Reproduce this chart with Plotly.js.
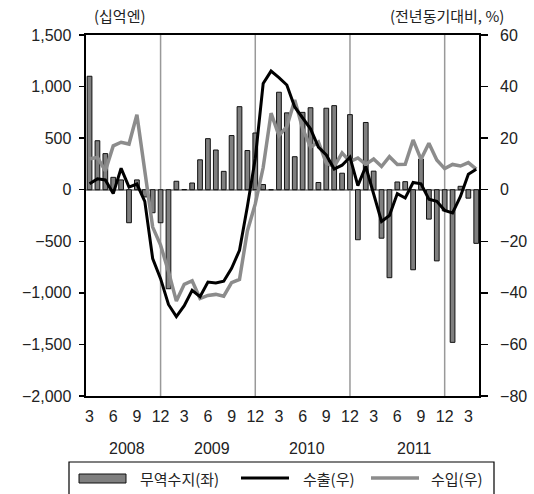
<!DOCTYPE html>
<html><head><meta charset="utf-8">
<script src="https://cdn.plot.ly/plotly-3.0.1.min.js"></script>
<style>html,body{margin:0;padding:0;background:#fff}#chart{width:534px;height:494px}</style>
</head><body><div id="chart"></div>
<script>
// Months (year.month), Mar 2008 – Apr 2012
const months = [
 '2008.3','2008.4','2008.5','2008.6','2008.7','2008.8','2008.9','2008.10','2008.11','2008.12',
 '2009.1','2009.2','2009.3','2009.4','2009.5','2009.6','2009.7','2009.8','2009.9','2009.10','2009.11','2009.12',
 '2010.1','2010.2','2010.3','2010.4','2010.5','2010.6','2010.7','2010.8','2010.9','2010.10','2010.11','2010.12',
 '2011.1','2011.2','2011.3','2011.4','2011.5','2011.6','2011.7','2011.8','2011.9','2011.10','2011.11','2011.12',
 '2012.1','2012.2','2012.3','2012.4'
];
// Trade balance (billion yen, left axis)
const tradeBalance = [
 1100, 475, 350, 120, 95, -320, 95, -70, -223, -320,
 -960, 82, 2, 65, 290, 495, 385, 178, 525, 805, 380, 550,
 50, 0, 945, 745, 320, 750, 795, 70, 790, 815, 160, 728,
 -485, 652, 180, -470, -853, 75, 78, -776, 298, -285, -690, -205,
 -1480, 33, -82, -520
];
// Exports, y/y % (right axis)
const exportsYoY = [
 2.3, 4.2, 3.8, -1.5, 8.3, 1.0, 2.2, -4.5, -26.7, -34.5,
 -44.5, -49.2, -45.0, -39.0, -41.5, -35.8, -36.2, -35.5, -30.5, -23.5, -6.5, 12.1,
 41.2, 46.0, 43.5, 40.6, 32.1, 27.7, 23.6, 16.5, 13.5, 8.0, 9.5, 12.6,
 1.6, 9.0, -2.2, -12.3, -10.0, -1.5, -3.2, 2.8, 2.3, -3.7, -4.5, -8.0,
 -9.0, -2.6, 6.0, 7.9
];
// Imports, y/y % (right axis)
const importsYoY = [
 12.0, 12.5, 7.3, 17.0, 18.4, 17.7, 29.1, 6.5, -14.5, -21.5,
 -31.7, -43.2, -36.7, -35.3, -42.2, -41.0, -40.6, -41.3, -36.0, -34.8, -16.0, -5.5,
 8.6, 29.7, 21.0, 24.5, 34.8, 23.8, 16.5, 18.5, 10.3, 9.0, 14.3, 10.9,
 12.3, 9.8, 11.9, 9.0, 12.8, 9.8, 9.9, 19.3, 11.8, 18.0, 11.5, 8.2,
 9.8, 9.2, 10.5, 8.0
];
const yearLabels = ['2008','2009','2010','2011'];
const leftTickVals = [1500,1000,500,0,-500,-1000,-1500,-2000];
const leftTickText = ['1,500','1,000','500','0','\u2212500','\u22121,000','\u22121,500','\u22122,000'];
const rightTickVals = [60,40,20,0,-20,-40,-60,-80];
const rightTickText = ['60','40','20','0','\u221220','\u221240','\u221260','\u221280'];
const seriesNames = ['무역수지(좌)','수출(우)','수입(우)'];
const leftUnit = '(십억엔)';
const rightUnit = '(전년동기대비, %)';

const idx = months.map((m,i)=>i);
const monthNum = months.map(m=>+m.split('.')[1]);
const tickvals = idx.filter(i=>monthNum[i]%3===0);
const ticktext = tickvals.map(i=>String(monthNum[i]));
const decIdx = idx.filter(i=>monthNum[i]===12);
const NB = '\u00a0';

const FONT = 'Liberation Sans, Noto Sans CJK KR, sans-serif';
const KFONT = 'Noto Sans CJK KR, Liberation Sans, sans-serif';

const traces = [
 {type:'bar', x:idx, y:tradeBalance, yaxis:'y', name:seriesNames[0], width:0.6,
  marker:{color:'#7f7f7f', line:{color:'#111', width:1}}, hoverinfo:'skip'},
 {type:'scatter', mode:'lines', x:idx, y:importsYoY, yaxis:'y2', name:seriesNames[2],
  line:{color:'#8c8c8c', width:3.5}, hoverinfo:'skip'},
 {type:'scatter', mode:'lines', x:idx, y:exportsYoY, yaxis:'y2', name:seriesNames[1],
  line:{color:'#000', width:3}, hoverinfo:'skip'}
];

const px2x = p => (p-86)/393;
const py2y = p => (396-p)/361;

const shapes = decIdx.map(i=>({type:'line', xref:'x', yref:'paper', x0:i, x1:i, y0:0, y1:1,
  line:{color:'#999', width:1.5}, layer:'below'}));
// legend box and symbols
shapes.push({type:'rect', xref:'paper', yref:'paper', x0:px2x(69), x1:px2x(494), y0:py2y(510), y1:py2y(462),
  line:{color:'#000', width:1.2}, fillcolor:'rgba(0,0,0,0)'});
shapes.push({type:'rect', xref:'paper', yref:'paper', x0:px2x(79), x1:px2x(126), y0:py2y(483), y1:py2y(474),
  line:{color:'#111', width:1}, fillcolor:'#7f7f7f'});
shapes.push({type:'line', xref:'paper', yref:'paper', x0:px2x(241), x1:px2x(289), y0:py2y(478), y1:py2y(478),
  line:{color:'#000', width:3}});
shapes.push({type:'line', xref:'paper', yref:'paper', x0:px2x(371), x1:px2x(419), y0:py2y(478), y1:py2y(478),
  line:{color:'#8c8c8c', width:3.5}});

const yearPos = [4.7, 15.5, 27.5, 41.2];
const annotations = yearLabels.map((t,k)=>({text:t, xref:'x', yref:'paper', x:yearPos[k], y:py2y(448),
  showarrow:false, xanchor:'center', yanchor:'middle', font:{family:FONT, size:16, color:'#222'}}));
annotations.push({text:leftUnit, xref:'paper', yref:'paper', x:px2x(120), y:py2y(15), showarrow:false,
  xanchor:'center', yanchor:'middle', font:{family:KFONT, size:15, color:'#222'}});
annotations.push({text:rightUnit, xref:'paper', yref:'paper', x:px2x(447), y:py2y(15), showarrow:false,
  xanchor:'center', yanchor:'middle', font:{family:KFONT, size:15, color:'#222'}});
const legX = [138, 301, 429];
seriesNames.forEach((n,k)=>annotations.push({text:n, xref:'paper', yref:'paper', x:px2x(legX[k]), y:py2y(478),
  showarrow:false, xanchor:'left', yanchor:'middle', font:{family:KFONT, size:15, color:'#222'}}));

const layout = {
 width:534, height:494, margin:{l:86, r:55, t:35, b:98},
 paper_bgcolor:'#fff', plot_bgcolor:'#fff', showlegend:false,
 font:{family:FONT, size:16, color:'#222'},
 xaxis:{range:[-0.45,49.35], tickvals:tickvals, ticktext:ticktext, ticks:'outside', ticklen:5,
   tickcolor:'rgba(0,0,0,0)', showgrid:false, zeroline:false,
   showline:true, mirror:true, linecolor:'#000', linewidth:2, tickfont:{size:16}, fixedrange:true},
 yaxis:{range:[-2000,1500], tickvals:leftTickVals, ticktext:leftTickText.map(t=>t+NB), ticks:'outside', ticklen:5,
   tickwidth:1.5, tickcolor:'#000', showline:true, linecolor:'#000', linewidth:2, showgrid:false,
   zeroline:true, zerolinecolor:'#999', zerolinewidth:2, tickfont:{size:16}, fixedrange:true},
 yaxis2:{range:[-80,60], overlaying:'y', side:'right', tickvals:rightTickVals, ticktext:rightTickText.map(t=>NB+NB+t),
   ticks:'outside', ticklen:7, tickwidth:1.5, tickcolor:'#000', showline:true,
   linecolor:'#000', linewidth:2,
   showgrid:false, zeroline:false, tickfont:{size:16}, fixedrange:true},
 shapes:shapes, annotations:annotations
};
Plotly.newPlot('chart', traces, layout, {displayModeBar:false, staticPlot:true});
</script></body></html>
